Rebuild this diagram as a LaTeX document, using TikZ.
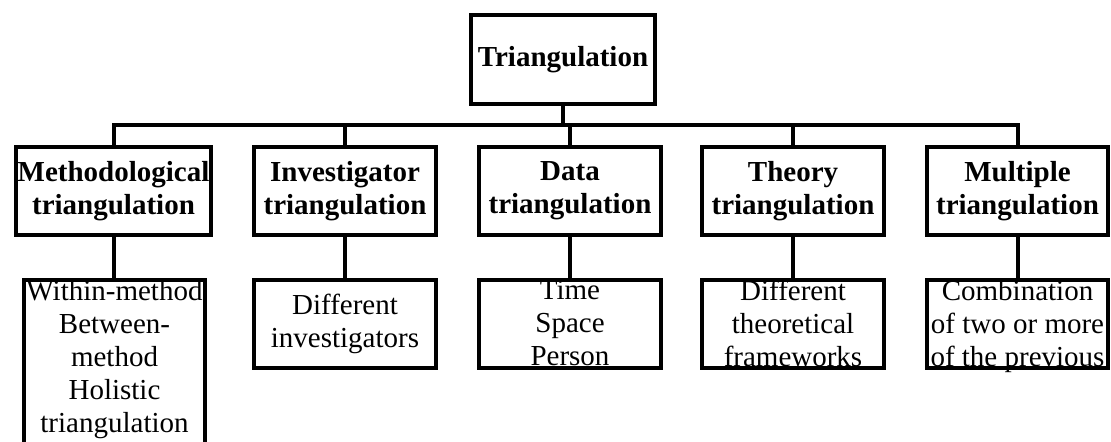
\documentclass[tikz,border=0pt]{standalone}
\usepackage{fontspec}
\setmainfont{Liberation Serif}
\usepackage{tikz}
\newcommand{\celltext}[3][t]{\parbox[c][#2][#1]{90pt}{\centering #3}}

\begin{document}
\begin{tikzpicture}[x=0.5pt,y=-0.5pt,
    box/.style={draw, line width=2pt, inner sep=0pt, align=center, minimum height=44pt, minimum width=91pt,
      font=\fontsize{14.5pt}{16.5pt}\selectfont},
    headbox/.style={box, font=\bfseries\fontsize{14.5pt}{16.5pt}\selectfont},
    subbox/.style={box, anchor=north},
    link/.style={line width=2pt}]
        \useasboundingbox (0,0) rectangle (1111,441);
        \node[headbox, minimum width=92pt, minimum height=44.5pt] (top) at (563,59.5) {Triangulation};
        \node[headbox, minimum width=97.5pt] (m1) at (113.5,191) {Methodological\\triangulation};
        \node[headbox] (m2) at (345,191) {Investigator\\triangulation};
        \node[headbox] (m3) at (570,191) {Data\\triangulation};
        \node[headbox] (m4) at (793,191) {Theory\\triangulation};
        \node[headbox, minimum width=90.5pt] (m5) at (1017.5,191) {Multiple\\triangulation};
        \node[subbox, minimum width=90.5pt] (s1) at (114.5,278) {\celltext{92pt}{Within-method\\Between-\\method\\Holistic\\triangulation}};
        \node[subbox] (s2) at (345,278) {\celltext[c]{44pt}{Different\\investigators}};
        \node[subbox] (s3) at (570,278) {\celltext{44pt}{Time\\Space\\Person}};
        \node[subbox] (s4) at (793,278) {\celltext{44pt}{Different\\theoretical\\frameworks}};
        \node[subbox, minimum width=90.5pt] (s5) at (1017.5,278) {\celltext{44pt}{Combination\\of two or more\\of the previous}};
        \coordinate (bus) at (0,125);
        \draw[link] (top.south) -- (top.south |- bus);
        \draw[link] (m1.north) -- (m1.north |- bus) -- (m5.north |- bus) -- (m5.north);
        \foreach \n in {m2,m3,m4} \draw[link] (\n.north) -- (\n.north |- bus);
        \foreach \i in {1,...,5} \draw[link] (m\i.south) -- (m\i.south |- s\i.north);
\end{tikzpicture}
\end{document}
